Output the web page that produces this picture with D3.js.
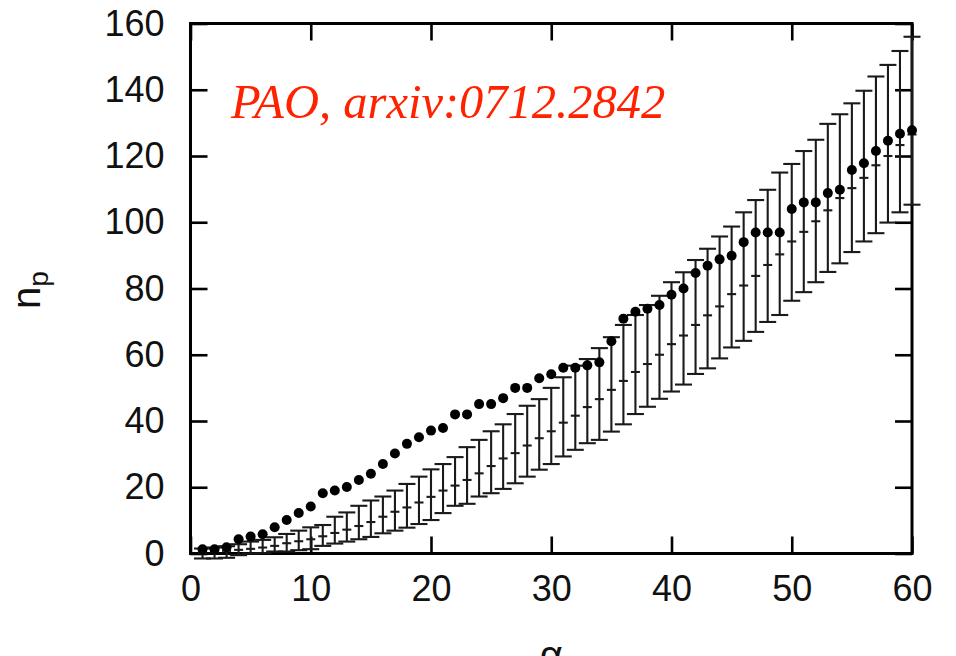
<!DOCTYPE html>
<html>
<head>
<meta charset="utf-8">
<script src="https://cdn.jsdelivr.net/npm/d3@7"></script>
<style>
  html, body { margin: 0; padding: 0; background: #fff; }
  svg { display: block; }
</style>
</head>
<body>
<svg id="chart" width="956" height="656"></svg>
<script>
// ---- data ----
const alpha = d3.range(1, 61);
const npObserved = [1.3, 1.3, 1.9, 4.3, 5.1, 5.8, 7.9, 10.1, 12.2, 14.2,
  18.2, 19.0, 20.1, 22.2, 24.1, 27.0, 30.2, 33.1, 35.1, 37.1,
  37.9, 42.0, 42.0, 45.1, 45.1, 46.9, 50.0, 50.0, 52.9, 54.1,
  56.1, 56.1, 56.8, 57.7, 64.1, 70.9, 73.0, 73.9, 75.0, 78.1,
  80.0, 84.7, 86.9, 88.8, 89.9, 94.0, 96.9, 96.9, 96.9, 104.0,
  106.0, 106.0, 108.8, 109.8, 115.8, 117.8, 121.5, 124.6, 126.7, 127.8];
const npModel = [0.3, 0.5, 0.8, 1.1, 1.4, 1.8, 2.3, 3.1, 3.7, 4.3,
  5.2, 6.2, 7.2, 8.3, 9.5, 11.1, 12.6, 13.9, 15.4, 17.1,
  19.0, 20.5, 22.2, 24.2, 26.4, 28.7, 30.3, 32.6, 34.8, 36.9,
  39.5, 41.6, 44.2, 46.6, 49.4, 52.1, 54.8, 57.2, 60.0, 63.2,
  65.8, 69.0, 71.9, 74.6, 78.3, 80.9, 83.8, 87.1, 90.3, 94.2,
  97.1, 100.3, 103.6, 107.3, 110.3, 113.4, 117.2, 120.0, 123.3, 126.5];
const npLow = [-1.5, -1.5, -1.3, -0.5, 0, 0.1, 0.6, 0.6, 1.0, 1.3,
  2.3, 3.0, 3.6, 4.3, 5.0, 6.1, 6.9, 7.8, 8.9, 10.1,
  12.2, 14.4, 15.0, 17.2, 18.2, 19.5, 21.2, 23.2, 25.3, 27.0,
  29.3, 31.3, 33.3, 34.3, 36.8, 39.0, 42.1, 44.3, 46.7, 48.9,
  51.0, 54.2, 55.9, 58.9, 62.2, 64.2, 66.9, 69.9, 72.0, 76.3,
  78.9, 81.9, 85.0, 87.6, 91.0, 94.2, 96.7, 99.9, 103.0, 105.3];
const npHigh = [1.5, 1.8, 2.2, 2.8, 3.6, 4.1, 4.9, 5.9, 6.9, 7.9,
  8.6, 11.1, 12.4, 14.4, 16.0, 17.2, 19.0, 21.0, 23.2, 25.4,
  27.0, 29.1, 32.1, 34.3, 36.9, 39.0, 42.1, 44.6, 46.6, 50.0,
  53.2, 56.7, 58.7, 62.0, 65.3, 69.0, 72.0, 75.0, 77.8, 81.9,
  84.9, 88.6, 92.0, 95.7, 98.7, 103.0, 106.7, 109.8, 115.0, 117.6,
  121.5, 124.9, 129.7, 132.6, 135.9, 139.7, 144.0, 147.5, 151.7, 156.0];
const xTicks = [0, 10, 20, 30, 40, 50, 60];
const yTicks = [0, 20, 40, 60, 80, 100, 120, 140, 160];
const annotation = "PAO, arxiv:0712.2842";
const xLabel = "α";
const yLabelMain = "n";
const yLabelSub = "p";

// ---- layout ----
const svg = d3.select("#chart");
const L = 190.5, R = 912, T = 23.5, B = 553.5;
const x = d3.scaleLinear().domain([0, 60]).range([L, R]);
const y = d3.scaleLinear().domain([0, 160]).range([B, T]);
const font = "'Liberation Sans', Arial, Helvetica, sans-serif";

// axes
const tickLen = 17;
function styleAxis(g) {
  g.select(".domain").remove();
  g.selectAll(".tick line").attr("stroke", "#000").attr("stroke-width", 2.6);
  g.selectAll(".tick text").attr("fill", "#111").style("font-family", font).style("font-size", "36px");
}
svg.append("g").attr("transform", `translate(0,${B})`)
  .call(d3.axisBottom(x).tickValues(xTicks).tickSize(-tickLen).tickPadding(22).tickFormat(d3.format("d")))
  .call(styleAxis);
svg.append("g").attr("transform", `translate(0,${T})`)
  .call(d3.axisTop(x).tickValues(xTicks).tickSize(-tickLen).tickFormat(""))
  .call(styleAxis);
svg.append("g").attr("transform", `translate(${L},0)`)
  .call(d3.axisLeft(y).tickValues(yTicks).tickSize(-tickLen).tickPadding(26).tickFormat(d3.format("d")))
  .call(styleAxis);
svg.append("g").attr("transform", `translate(${R},0)`)
  .call(d3.axisRight(y).tickValues(yTicks).tickSize(-tickLen).tickFormat(""))
  .call(styleAxis);

// frame
svg.append("rect").attr("x", L).attr("y", T).attr("width", R - L).attr("height", B - T)
  .attr("fill", "none").attr("stroke", "#000").attr("stroke-width", 3);

// error bars (model)
const capHalf = 8.5, midHalf = 4.5;
const bars = svg.append("g").attr("stroke", "#1a1a1a").attr("stroke-width", 2.1);
alpha.forEach((a, i) => {
  const cx = x(a);
  bars.append("line").attr("x1", cx).attr("x2", cx).attr("y1", y(npLow[i])).attr("y2", y(npHigh[i]));
  bars.append("line").attr("x1", cx - capHalf).attr("x2", cx + capHalf).attr("y1", y(npLow[i])).attr("y2", y(npLow[i]));
  bars.append("line").attr("x1", cx - capHalf).attr("x2", cx + capHalf).attr("y1", y(npHigh[i])).attr("y2", y(npHigh[i]));
  bars.append("line").attr("x1", cx - midHalf).attr("x2", cx + midHalf).attr("y1", y(npModel[i])).attr("y2", y(npModel[i]));
});

// observed points
svg.append("g").selectAll("circle").data(alpha).join("circle")
  .attr("cx", d => x(d)).attr("cy", (d, i) => y(npObserved[i])).attr("r", 5).attr("fill", "#000");

// annotation
svg.append("text").attr("x", 231).attr("y", 118)
  .style("font-family", "'Liberation Serif', 'Times New Roman', serif")
  .style("font-style", "italic").style("font-size", "48.5px").attr("fill", "#ff2200")
  .text(annotation);

// axis labels
const yl = svg.append("text").attr("transform", "translate(40,290) rotate(-90)")
  .attr("text-anchor", "middle").style("font-family", font).style("font-size", "40px").attr("fill", "#111");
yl.append("tspan").text(yLabelMain);
yl.append("tspan").attr("baseline-shift", "-30%").style("font-size", "28px").text(yLabelSub);

svg.append("text").attr("x", (L + R) / 2).attr("y", 669).attr("text-anchor", "middle")
  .style("font-family", font).style("font-size", "40px").attr("fill", "#111").text(xLabel);
</script>
</body>
</html>
